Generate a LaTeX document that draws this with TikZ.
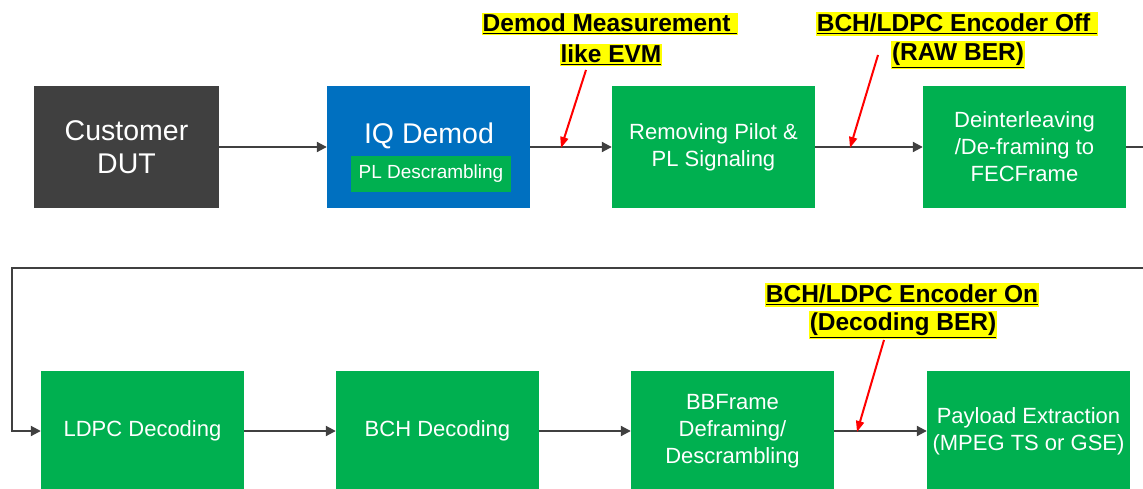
\documentclass[tikz,border=0pt]{standalone}
\usepackage{fontspec}
\setmainfont{Liberation Sans}
\usetikzlibrary{arrows.meta}
\definecolor{dutgray}{HTML}{404040}
\definecolor{iqblue}{HTML}{0070C0}
\definecolor{boxgreen}{HTML}{00B050}
\definecolor{linegray}{HTML}{404040}
\definecolor{hl}{HTML}{FFFF00}
\tikzset{
  blk/.style={rectangle, minimum width=203pt, minimum height=122pt, inner sep=0pt, text=white, align=center, font=\fontsize{22}{27}\selectfont},
  gblk/.style={blk, fill=boxgreen},
  conn/.style={draw=linegray, line width=2pt, -{Triangle[length=10pt,width=10pt]}},
  plainconn/.style={draw=linegray, line width=2pt},
  redarr/.style={draw=red, line width=2pt, -{Triangle[length=11pt,width=8pt]}},
  lbl/.style={fill=hl, inner xsep=1pt, inner ysep=1.5pt, font=\bfseries\fontsize{24.5}{28}\selectfont, text=black}
}
\begin{document}
\begin{tikzpicture}[x=1pt,y=-1pt]
\useasboundingbox (0,0) rectangle (1143,489);
% row 1
\node[blk, fill=dutgray, minimum width=185pt, font=\fontsize{28.5}{33}\selectfont] (dut) at (126.5,147) {Customer\\DUT};
\node[blk, fill=iqblue] (iq) at (428.5,147) {};
\node[text=white, font=\fontsize{28.5}{32}\selectfont, inner sep=0pt] (iqt) at (429,136) {IQ Demod};
\node[rectangle, fill=boxgreen, minimum width=160pt, minimum height=36pt, inner sep=0pt, text=white, font=\fontsize{19}{22}\selectfont] (pld) at (431,174) {PL Descrambling};
\node[gblk] (rp) at (713.5,147) {Removing Pilot \&\\PL Signaling};
\node[gblk] (di) at (1024.5,147) {Deinterleaving\\/De-framing to\\FECFrame};
% row 2
\node[gblk, minimum height=120pt] (ldpc) at (142.5,431) {LDPC Decoding};
\node[gblk, minimum height=120pt] (bch) at (437.5,431) {BCH Decoding};
\node[gblk, minimum height=120pt] (bb) at (732.5,431) {BBFrame\\Deframing/\\Descrambling};
\node[gblk, minimum height=120pt] (pl) at (1028.5,431) {Payload Extraction\\(MPEG TS or GSE)};
% connectors
\draw[conn] (dut) -- (iq);
\draw[conn] (iq) -- (rp);
\draw[conn] (rp) -- (di);
\coordinate (r1) at (1145,147);
\draw[plainconn] (di) -- (r1);
\coordinate (r2) at (1145,268);
\coordinate (l2) at (12,268);
\draw[conn] (r2) -- (l2) |- (ldpc.west);
\draw[conn] (ldpc) -- (bch);
\draw[conn] (bch) -- (bb);
\draw[conn] (bb) -- (pl);
% labels
\node[lbl] (a1) at (610,24) {\underline{Demod Measurement\ }};
\node[lbl] (a2) at (611,55) {\underline{like EVM}};
\node[lbl] (b1) at (957,24) {\underline{BCH/LDPC Encoder Off\ }};
\node[lbl] (b2) at (958,55) {\underline{(RAW BER)}};
\node[lbl] (c1) at (902,295) {\underline{BCH/LDPC Encoder On}};
\node[lbl] (c2) at (903,325) {\underline{(Decoding BER)}};
% red pointers
\coordinate (pa) at (561,148);
\coordinate (pb) at (850,148);
\coordinate (pc) at (857,432);
\draw[redarr] (586,70) -- (pa);
\draw[redarr] (878,55) -- (pb);
\draw[redarr] (884,340) -- (pc);
\end{tikzpicture}
\end{document}
